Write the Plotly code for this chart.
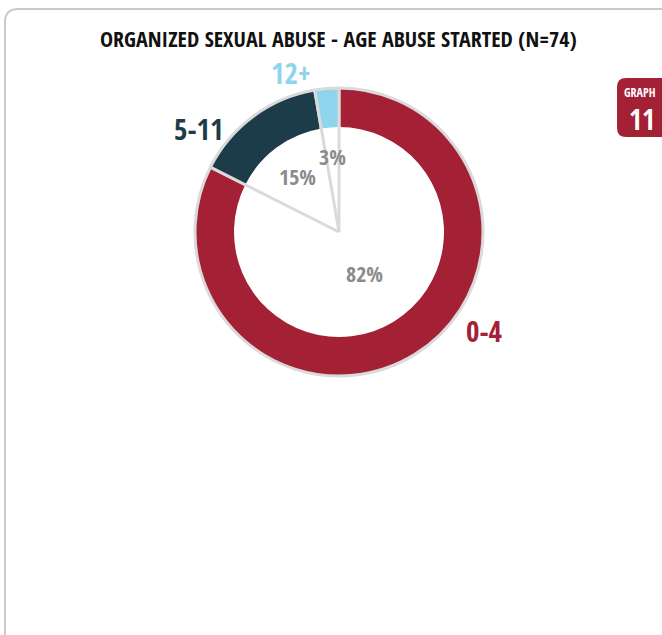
import math
import plotly.graph_objects as go

W, H = 662, 635

# data
age_groups = ["0-4", "5-11", "12+"]
counts = [61, 11, 2]          # N = 74
slice_colors = ["#a32035", "#1b3c48", "#8fd4ec"]
title_text = "ORGANIZED SEXUAL ABUSE - AGE ABUSE STARTED (N=74)"

FONT = "Open Sans Condensed, Roboto Condensed, sans-serif"
GREY_LINE = "#dadada"
GREY_TEXT = "#8b8b8d"

# pie geometry (pixels)
cx, cy, R, R_IN = 339, 232, 144, 105


def px(x):
    return x / W


def py(y):
    return 1 - y / H


def dom(r):
    return dict(x=[px(cx - r), px(cx + r)], y=[py(cy + r), py(cy - r)])


def label(x, y, text, size, color, xanchor="center"):
    return dict(x=px(x), y=py(y), xref="paper", yref="paper", showarrow=False,
                xanchor=xanchor, yanchor="middle", text=text,
                font=dict(family=FONT, size=size, color=color, weight="bold"))


fig = go.Figure()

# coloured pie (outer ring + grey separators/outline)
fig.add_trace(go.Pie(
    labels=age_groups, values=counts, sort=False, direction="clockwise", rotation=0,
    marker=dict(colors=slice_colors, line=dict(color=GREY_LINE, width=3)),
    textinfo="none", hovertemplate="%{label}: %{percent}<extra></extra>", domain=dom(R),
))
# white centre
fig.add_trace(go.Pie(
    labels=age_groups, values=counts, sort=False, direction="clockwise", rotation=0,
    marker=dict(colors=["white"] * 3, line=dict(width=0)),
    textinfo="none", hoverinfo="skip", domain=dom(R_IN),
))

# grey wedge lines inside the hole
total = sum(counts)
shapes = []
cum = 0
for v in counts:
    a = 2 * math.pi * cum / total
    cum += v
    shapes.append(dict(
        type="line", xref="paper", yref="paper", layer="above",
        x0=px(cx), y0=py(cy),
        x1=px(cx + (R_IN + 1) * math.sin(a)), y1=py(cy - (R_IN + 1) * math.cos(a)),
        line=dict(color=GREY_LINE, width=3),
    ))

annotations = []

# percentage labels along each slice's mid angle
label_r = [48, 70, 76]
cum = 0
for v, r in zip(counts, label_r):
    mid = 2 * math.pi * (cum + v / 2) / total
    cum += v
    annotations.append(label(cx + r * math.sin(mid), cy - r * math.cos(mid),
                             f"{round(100 * v / total)}%", 22, GREY_TEXT))

# category labels outside the ring
cat_pos = [(484, 330), (198, 128), (291, 72)]
for lab, col, (x, y) in zip(age_groups, slice_colors, cat_pos):
    annotations.append(label(x, y, lab, 29, col))

# title
annotations.append(label(338, 38, title_text, 22, "#111111"))

# badge text
annotations.append(label(622, 93, "GRAPH", 12, "white", xanchor="left"))
annotations.append(label(627, 119, "11", 28, "white", xanchor="left"))

shapes += [
    # card frame
    dict(type="path", xref="paper", yref="paper",
         path=f"M {px(5)},{py(700)} L {px(5)},{py(22)} Q {px(5)},{py(9)} {px(18)},{py(9)} L {px(700)},{py(9)}",
         line=dict(color="#c9c9c9", width=2)),
    # badge
    dict(type="path", xref="paper", yref="paper",
         path=f"M {px(700)},{py(78)} L {px(626)},{py(78)} Q {px(617)},{py(78)} {px(617)},{py(87)} "
              f"L {px(617)},{py(128)} Q {px(617)},{py(137)} {px(626)},{py(137)} L {px(700)},{py(137)} Z",
         fillcolor="#a32035", line=dict(width=0)),
]

fig.update_layout(
    width=W, height=H, margin=dict(l=0, r=0, t=0, b=0),
    paper_bgcolor="white", plot_bgcolor="white",
    showlegend=False, annotations=annotations, shapes=shapes,
)

fig.write_html("out.html", config={"displayModeBar": False},
               post_script="document.body.style.margin='0';")
